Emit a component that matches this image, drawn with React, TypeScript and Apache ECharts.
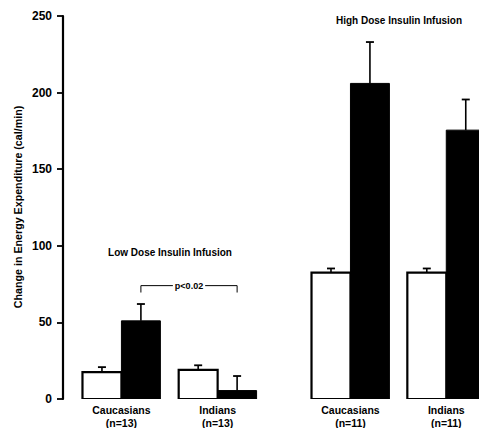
import React, { useEffect, useRef } from "react";
import * as echarts from "echarts";

// Data
const groupNames = ["Caucasians", "Indians", "Caucasians", "Indians"];
const groupN = ["(n=13)", "(n=13)", "(n=11)", "(n=11)"];
const openMeans = [17.5, 19, 82.5, 82.5];
const openSE = [3.3, 3, 2.7, 2.7];
const filledMeans = [51, 5.5, 206, 175.5];
const filledSE = [11, 9.5, 27, 20];
const yTicks = [0, 50, 100, 150, 200, 250];
const panelTitles = ["Low Dose Insulin Infusion", "High Dose Insulin Infusion"];
const pLabel = "p<0.02";

// Layout (in bar-width units along a hidden value axis)
const groupPos = [1.5, 3.97, 7.38, 9.84];
const X_MAX = 10.68;
const FONT = "'Liberation Sans', Arial, Helvetica, sans-serif";
const INK = "#000";

function barSeries(means: number[], se: number[], offset: number, filled: boolean) {
  return {
    type: "custom",
    clip: true,
    data: groupPos.map((p, i) => [p, means[i], se[i]]),
    encode: { x: 0, y: 1 },
    renderItem: (params: any, api: any) => {
      const pos = api.value(0);
      const mean = api.value(1);
      const err = api.value(2);
      const p0 = api.coord([pos + offset, 0]);
      const p1 = api.coord([pos + offset + 1, mean]);
      const c = api.coord([pos + offset + 0.5, mean + err]);
      const top = p1[1];
      const cx = c[0];
      const children: any[] = [
        {
          type: "line",
          shape: { x1: cx, y1: top, x2: cx, y2: c[1] },
          style: { stroke: INK, lineWidth: 1.6 },
        },
        {
          type: "line",
          shape: { x1: cx - 4, y1: c[1], x2: cx + 4, y2: c[1] },
          style: { stroke: INK, lineWidth: 1.8 },
        },
        {
          type: "rect",
          shape: { x: p0[0], y: top, width: p1[0] - p0[0], height: p0[1] - top },
          style: filled
            ? { fill: INK, stroke: INK, lineWidth: 1 }
            : { fill: "#fff", stroke: INK, lineWidth: 2.2 },
        },
      ];
      return { type: "group", children };
    },
    z: filled ? 2 : 3,
  };
}

export default function App() {
  const ref = useRef<HTMLDivElement>(null);
  useEffect(() => {
    if (!ref.current) return;
    const chart = echarts.init(ref.current, null, { renderer: "svg" });
    const option: any = {
      animation: false,
      backgroundColor: "#fff",
      grid: { left: 63, right: 0, top: 16, bottom: 29 },
      xAxis: { type: "value", min: 0, max: X_MAX, show: false },
      yAxis: {
        type: "value",
        min: yTicks[0],
        max: yTicks[yTicks.length - 1],
        interval: 50,
        axisLine: { show: true, lineStyle: { color: INK, width: 2.2 } },
        axisTick: { show: true, length: 6, lineStyle: { color: INK, width: 1.8 } },
        axisLabel: {
          color: INK,
          fontSize: 12,
          fontWeight: "bold",
          fontFamily: FONT,
          margin: 11,
        },
        splitLine: { show: false },
      },
      graphic: [
        {
          type: "text",
          x: 18,
          y: 207,
          rotation: Math.PI / 2,
          style: {
            text: "Change in Energy Expenditure (cal/min)",
            fill: INK,
            font: `bold 10.7px ${FONT}`,
            align: "center",
            verticalAlign: "middle",
          },
        },
        {
          type: "text",
          x: 170,
          y: 252,
          style: {
            text: panelTitles[0],
            fill: INK,
            font: `bold 10px ${FONT}`,
            align: "center",
            verticalAlign: "middle",
          },
        },
        {
          type: "text",
          x: 399,
          y: 20,
          style: {
            text: panelTitles[1],
            fill: INK,
            font: `bold 10px ${FONT}`,
            align: "center",
            verticalAlign: "middle",
          },
        },
      ],
      series: [
        barSeries(filledMeans, filledSE, 0, true),
        barSeries(openMeans, openSE, -1, false),
        {
          type: "custom",
          clip: false,
          silent: true,
          data: groupPos.map((p, i) => [p, 0, i]),
          encode: { x: 0, y: 1 },
          renderItem: (params: any, api: any) => {
            const i = api.value(2);
            const pt = api.coord([api.value(0), 0]);
            return {
              type: "text",
              x: pt[0],
              y: pt[1] + 4,
              style: {
                text: groupNames[i] + "\n" + groupN[i],
                fill: INK,
                font: `bold 10.5px ${FONT}`,
                lineHeight: 13,
                align: "center",
                verticalAlign: "top",
              },
            };
          },
          z: 4,
        },
        {
          type: "custom",
          clip: false,
          silent: true,
          data: [[groupPos[0] + 0.5, 74, groupPos[1] + 0.5, 69.5]],
          encode: { x: [0, 2], y: [1, 3] },
          renderItem: (params: any, api: any) => {
            const a = api.coord([api.value(0), api.value(1)]);
            const b = api.coord([api.value(2), api.value(1)]);
            const lowY = api.coord([api.value(0), api.value(3)])[1];
            const mid = (a[0] + b[0]) / 2;
            return {
              type: "group",
              children: [
                {
                  type: "polyline",
                  shape: { points: [[a[0], lowY], [a[0], a[1]], [b[0], b[1]], [b[0], lowY]] },
                  style: { stroke: INK, lineWidth: 1, fill: "none" },
                },
                {
                  type: "text",
                  x: mid,
                  y: a[1],
                  style: {
                    text: pLabel,
                    fill: INK,
                    font: `bold 9px ${FONT}`,
                    align: "center",
                    verticalAlign: "middle",
                    backgroundColor: "#fff",
                    padding: [1, 2],
                  },
                  z2: 10,
                },
              ],
            };
          },
          z: 5,
        },
      ],
    };
    chart.setOption(option);
    return () => chart.dispose();
  }, []);
  return (
    <div
      ref={ref}
      style={{ position: "absolute", left: 0, top: 0, width: 479, height: 428, background: "#fff" }}
    />
  );
}
